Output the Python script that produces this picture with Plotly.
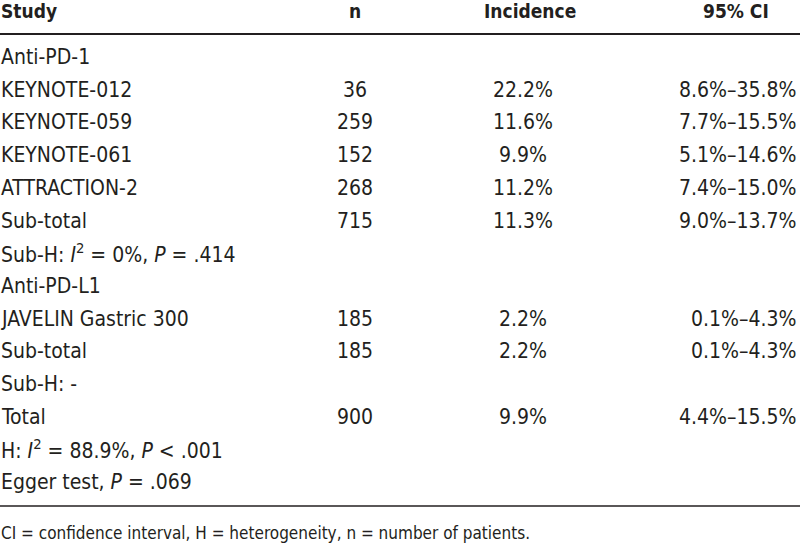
import plotly.graph_objects as go

# ---- data ----
headers = ["Study", "n", "Incidence", "95% CI"]
study = [
    "Anti-PD-1", "KEYNOTE-012", "KEYNOTE-059", "KEYNOTE-061", "ATTRACTION-2",
    "Sub-total", "Sub-H: <i>I</i><sup>2</sup> = 0%, <i>P</i> = .414",
    "Anti-PD-L1", "JAVELIN Gastric 300", "Sub-total", "Sub-H: -",
    "Total", "H: <i>I</i><sup>2</sup> = 88.9%, <i>P</i> &lt; .001",
    "Egger test, <i>P</i> = .069",
]
n_pat = [None, 36, 259, 152, 268, 715, None, None, 185, 185, None, 900, None, None]
incidence = [None, 22.2, 11.6, 9.9, 11.2, 11.3, None, None, 2.2, 2.2, None, 9.9, None, None]
ci_low = [None, 8.6, 7.7, 5.1, 7.4, 9.0, None, None, 0.1, 0.1, None, 4.4, None, None]
ci_high = [None, 35.8, 15.5, 14.6, 15.0, 13.7, None, None, 4.3, 4.3, None, 15.5, None, None]
footnote = "CI = confidence interval, H = heterogeneity, n = number of patients."

# ---- layout constants ----
W, H = 800, 545
FONT = "DejaVu Sans Condensed, Liberation Sans Narrow, sans-serif"
COLOR = "#231f20"
SIZE = 21
HSIZE = 19
row0, dy = 57, 32.7
header_y = 11
x_study, x_n, x_inc, x_ci_hdr, x_ci = 0, 355, 523, 736, 797

fig = go.Figure()
ann = []

def add(x, y, text, anchor, bold=False, size=SIZE):
    ann.append(dict(x=x, y=y, xref="x", yref="y", text=f"<b>{text}</b>" if bold else text,
                    showarrow=False, xanchor=anchor, yanchor="middle", borderpad=0,
                    font=dict(family=FONT, size=size, color=COLOR)))

# header
add(x_study, header_y, headers[0], "left", bold=True, size=HSIZE)
add(x_n, header_y, headers[1], "center", bold=True, size=HSIZE)
add(530, header_y, headers[2], "center", bold=True, size=HSIZE)
add(x_ci_hdr, header_y, headers[3], "center", bold=True, size=HSIZE)

for i, s in enumerate(study):
    y = row0 + dy * i
    add(x_study, y, s, "left")
    if n_pat[i] is not None:
        add(x_n, y, str(n_pat[i]), "center")
    if incidence[i] is not None:
        add(x_inc, y, f"{incidence[i]:.1f}%", "center")
    if ci_low[i] is not None:
        add(x_ci, y, f"{ci_low[i]:.1f}%\u2013{ci_high[i]:.1f}%", "right")

add(0, 533, footnote, "left", size=17)

fig.add_trace(go.Scatter(x=[0, W], y=[0, H], mode="markers", marker=dict(opacity=0),
                         hoverinfo="skip", showlegend=False))

shapes = [
    dict(type="line", xref="x", yref="y", x0=0, x1=W, y0=34, y1=34, line=dict(color=COLOR, width=2)),
    dict(type="line", xref="x", yref="y", x0=0, x1=W, y0=506, y1=506, line=dict(color=COLOR, width=1.5)),
]

fig.update_layout(
    width=W, height=H, margin=dict(l=0, r=0, t=0, b=0),
    paper_bgcolor="white", plot_bgcolor="white",
    xaxis=dict(range=[0, W], visible=False, fixedrange=True),
    yaxis=dict(range=[H, 0], visible=False, fixedrange=True),
    annotations=ann, shapes=shapes, showlegend=False,
)
fig.write_html("out.html", config={"displayModeBar": False},
               post_script="document.body.style.margin='0';document.body.style.overflow='hidden';")
